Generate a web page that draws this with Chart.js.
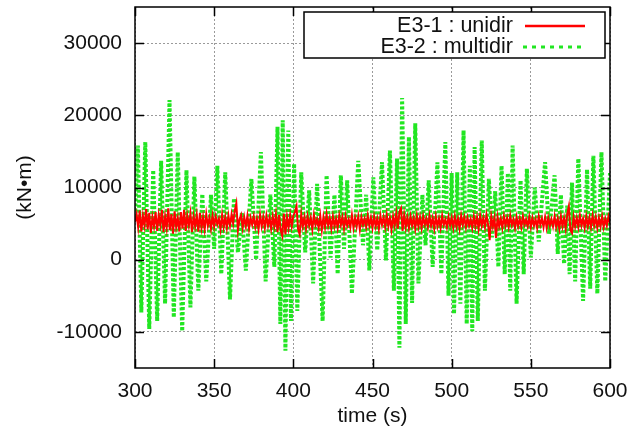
<!DOCTYPE html>
<html>
<head>
<meta charset="utf-8">
<script src="https://cdn.jsdelivr.net/npm/chart.js@4.4.1/dist/chart.umd.min.js"></script>
<style>
  html, body { margin: 0; padding: 0; background: #fff; }
  #wrap { width: 632px; height: 437px; position: relative; }
</style>
</head>
<body>
<div id="wrap"><canvas id="chart"></canvas></div>
<script>
/* ─── Data ─── */
const xTicks = [300, 350, 400, 450, 500, 550, 600];
const yTicks = [-10000, 0, 10000, 20000, 30000];

const seriesNames = ['E3-1 : unidir', 'E3-2 : multidir'];

// E3-1 (unidir), sampled every 1 s from 300 s
const redStart = 300;
const redStep  = 1;
const redValues = [
  5200, 6300, 4500, 6800, 3900, 6100, 4700, 7000, 4200, 6500,
  3700, 5900, 4600, 6600, 4000, 6200, 4800, 6900, 3800, 6000,
  4400, 7100, 4100, 6300, 3600, 6700, 4500, 5800, 3900, 6600,
  4300, 6900, 4000, 6100, 4700, 6400, 3800, 6000, 4600, 6200,
  3900, 6500, 4400, 5900, 4200, 6300, 4700, 5800, 4300, 6100,
  4600, 6000, 4900, 5700, 4200, 6200, 4500, 5900, 4400, 6100,
  4700, 6300, 5000, 6800, 7800, 4100, 5600, 6200, 4400, 5900,
  4600, 6100, 4300, 5800, 4800, 6000, 4500, 5700, 4200, 6200,
  4600, 5900, 4400, 6100, 4700, 5800, 4300, 6000, 4600, 6300,
  3800, 6200, 4100, 3300, 6400, 3500, 5900, 4400, 6200, 4600,
  6100, 6600, 7400, 4200, 3500, 6300, 4600, 5900, 4300, 6000,
  4700, 5800, 4200, 6200, 4800, 5600, 4400, 6100, 4100, 5900,
  4500, 6300, 4700, 5800, 4300, 6000, 4600, 5700, 4400, 6100,
  4800, 5900, 4300, 6000, 4700, 5600, 4500, 6200, 4400, 5800,
  4600, 6000, 4200, 5900, 4800, 5700, 4500, 6100, 4700, 5800,
  4400, 6000, 4600, 5700, 4300, 6100, 4800, 5900, 4500, 6200,
  4600, 5800, 4200, 6000, 4700, 6400, 4300, 6600, 7100, 4000,
  6200, 4500, 5900, 4400, 6000, 4700, 5800, 4300, 6100, 4600,
  5900, 4400, 6000, 4800, 5700, 4500, 6100, 4700, 5800, 4300,
  6000, 4600, 5700, 4400, 6100, 4800, 5600, 4500, 5900, 4700,
  5800, 4400, 6000, 4600, 5700, 4300, 6100, 4800, 5900, 4500,
  5800, 4700, 5600, 4400, 6000, 4600, 5900, 4300, 6100, 4700,
  5800, 4500, 6200, 4900, 2700, 6000, 4600, 5800, 3000, 5900,
  4600, 5700, 4400, 6000, 4700, 5800, 4500, 6100, 4800, 5600,
  4400, 5900, 4600, 5700, 4500, 6000, 4800, 5600, 4600, 5900,
  4500, 5800, 4700, 5600, 4400, 6000, 4800, 5700, 4500, 5900,
  4400, 5800, 4700, 5600, 4600, 6000, 4500, 5700, 4300, 6000,
  4600, 5800, 4300, 6300, 7400, 4100, 3700, 5900, 4600, 5800,
  4500, 6100, 4700, 5700, 4400, 6000, 4600, 5800, 4500, 6100,
  4700, 5900, 4400, 5800, 4600, 6000, 4500, 5700, 4700, 6000,
  5000,
];

// E3-2 (multidir): successive peaks and troughs
const greenTime = [
  300.0, 301.8, 304.0, 306.5, 309.0, 311.5, 314.0, 316.5, 319.0, 321.8,
  324.5, 327.0, 329.8, 332.5, 335.0, 337.5, 340.0, 342.5, 345.0, 348.0,
  350.0, 352.0, 354.5, 357.0, 360.0, 362.5, 365.0, 367.5, 370.0, 373.5,
  376.5, 379.5, 382.5, 385.5, 388.0, 390.0, 391.8, 393.3, 395.0, 396.8,
  398.5, 400.5, 402.5, 405.0, 407.5, 410.0, 412.5, 415.0, 418.5, 421.0,
  423.5, 426.0, 428.0, 430.0, 432.0, 434.0, 437.0, 441.0, 444.0, 446.0,
  448.0, 450.5, 453.0, 456.0, 458.5, 461.0, 463.5, 465.5, 467.0, 468.7,
  471.0, 473.0, 475.0, 477.0, 479.0, 481.5, 483.5, 485.5, 488.0, 491.0,
  493.5, 496.0, 498.0, 500.0, 501.5, 503.5, 505.5, 507.5, 509.5, 511.5,
  513.0, 514.5, 516.5, 519.0, 521.0, 523.5, 525.5, 527.5, 529.5, 531.5,
  533.5, 535.5, 537.0, 538.5, 541.0, 543.5, 545.5, 547.5, 550.0, 552.5,
  555.0, 559.0, 561.5, 565.0, 567.0, 569.0, 571.0, 573.0, 574.5, 576.0,
  578.0, 580.0, 583.0, 585.5, 587.5, 589.5, 592.0, 594.6, 597.0, 600.0,
];
const greenValues = [
   6000, 15800,  -7300, 16300,  -9600, 12400,  -8500, 13700,  -6100, 22100,
  -8000, 14900,  -9900, 12400,  -6600, 11500,  -4300,  9100,  -3000,  9000,
   1500, 13000,  -2000, 12100,  -5500,  8500,   1000,  6500,  -1500, 11200,
      0, 14900,  -3000,  9000,  -1000, 18400,  -8900, 19300, -12600, 17900,
  -8500, 13300,  -7100, 12100,   1000,  9600,  -3300, 10500,  -8500, 11700,
    300,  9000,  -2000, 11700,   1500, 11000,  -4700, 13700,   2000,  9000,
  -1500, 11400,   1300, 13500,   -100, 15100,  -4300, 14000, -12200, 22400,
  -8900, 17000,  -6000, 18900,  -3300,  9000,   2000, 11000,  -1000, 13500,
  -2000, 16300,  -5000, 12000,  -7500, 12100,  -6100, 17900,  -8900, 13000,
  -9900, 15600,  -8500, 16500,  -4300, 11200,   3100,  9500,  -1000, 13000,
  -2000, 12000,  -4300, 15800,  -6100, 11000,  -2000, 12600,    300, 10000,
   2500, 13500,   3600, 11700,    800,  9000,   -600,  7500,  -2000, 10700,
  -3000, 14000,  -5700, 12500,  -4000, 14400,  -4700, 14900,  -3000, 12000,
];

/* ─── Styles ─── */
const FONT      = "'Liberation Sans', Arial, Helvetica, sans-serif";
const TEXT_CLR  = '#111';
const RED       = '#ff0000';
const GREEN     = '#22e622';
const GREEN_DASH = [3, 2];

const redData   = redValues.map((v, i) => ({ x: redStart + i * redStep, y: v }));
const greenData = greenValues.map((v, i) => ({ x: greenTime[i], y: v }));

/* ─── Frame, mirrored inner ticks, legend box (gnuplot look) ─── */
const gnuplotFrame = {
  id: 'gnuplotFrame',
  afterDatasetsDraw(chart) {
    const { ctx, chartArea: a, scales } = chart;
    ctx.save();
    ctx.strokeStyle = '#000';
    ctx.lineWidth = 1.5;
    ctx.setLineDash([]);
    ctx.beginPath();
    yTicks.forEach(v => {
      const y = Math.round(scales.y.getPixelForValue(v)) + 0.5;
      ctx.moveTo(a.left, y);  ctx.lineTo(a.left + 9, y);
      ctx.moveTo(a.right, y); ctx.lineTo(a.right - 9, y);
    });
    xTicks.forEach(v => {
      const x = Math.round(scales.x.getPixelForValue(v)) + 0.5;
      ctx.moveTo(x, a.bottom); ctx.lineTo(x, a.bottom - 9);
      ctx.moveTo(x, a.top);    ctx.lineTo(x, a.top + 9);
    });
    ctx.stroke();
    ctx.strokeRect(a.left, a.top, a.right - a.left, a.bottom - a.top);

    // legend
    const bx = a.right - 306, by = a.top + 5, bw = 301, bh = 46;
    ctx.fillStyle = '#fff';
    ctx.fillRect(bx, by, bw, bh);
    ctx.strokeRect(bx, by, bw, bh);
    ctx.font = `21.5px ${FONT}`;
    ctx.fillStyle = TEXT_CLR;
    ctx.textAlign = 'right';
    ctx.textBaseline = 'middle';
    const rows = [by + 14, by + 35];
    ctx.fillText(seriesNames[0], bx + 209, rows[0]);
    ctx.fillText(seriesNames[1], bx + 209, rows[1]);
    ctx.lineWidth = 2.5;
    ctx.strokeStyle = RED;
    ctx.beginPath(); ctx.moveTo(bx + 221, rows[0]); ctx.lineTo(bx + 281, rows[0]); ctx.stroke();
    ctx.lineWidth = 3;
    ctx.strokeStyle = GREEN;
    ctx.setLineDash([4, 5]);
    ctx.beginPath(); ctx.moveTo(bx + 219, rows[1]); ctx.lineTo(bx + 281, rows[1]); ctx.stroke();
    ctx.restore();
  },
};

new Chart(document.getElementById('chart'), {
  type: 'line',
  data: {
    datasets: [
      {
        label: seriesNames[0],
        data: redData,
        borderColor: RED,
        borderWidth: 2,
        pointRadius: 0,
        tension: 0,
      },
      {
        label: seriesNames[1],
        data: greenData,
        borderColor: GREEN,
        borderWidth: 4,
        borderDash: GREEN_DASH,
        borderCapStyle: 'butt',
        pointRadius: 0,
        tension: 0,
      },
    ],
  },
  options: {
    responsive: true,
    maintainAspectRatio: false,
    animation: false,
    events: [],
    layout: { padding: { top: 7, right: 22, left: 0, bottom: 0 } },
    plugins: {
      legend: { display: false },
      tooltip: { enabled: false },
    },
    scales: {
      x: {
        type: 'linear',
        min: 300,
        max: 600,
        afterBuildTicks: axis => { axis.ticks = xTicks.map(v => ({ value: v })); },
        afterFit: scale => {
          scale.height = 69;
          scale.paddingLeft = 0;
          scale.paddingRight = 0;
        },
        grid: { color: '#9a9a9a', lineWidth: 1, drawTicks: false },
        border: { display: false, dash: [2, 2] },
        ticks: {
          color: TEXT_CLR,
          padding: 11,
          maxRotation: 0,
          font: { family: FONT, size: 21 },
          callback: v => String(v),
        },
        title: {
          display: true,
          text: 'time (s)',
          color: TEXT_CLR,
          font: { family: FONT, size: 21 },
          padding: { top: 0, bottom: 8 },
        },
      },
      y: {
        min: -15000,
        max: 35000,
        afterBuildTicks: axis => { axis.ticks = yTicks.map(v => ({ value: v })); },
        afterFit: scale => {
          scale.width = 135;
          scale.paddingTop = 0;
          scale.paddingBottom = 0;
        },
        grid: { color: '#9a9a9a', lineWidth: 1, drawTicks: false },
        border: { display: false, dash: [2, 2] },
        ticks: {
          color: TEXT_CLR,
          padding: 13,
          font: { family: FONT, size: 21 },
          callback: v => String(v),
        },
        title: {
          display: true,
          text: '(kN•m)',
          color: TEXT_CLR,
          font: { family: FONT, size: 21 },
          padding: { top: 13, bottom: 0 },
        },
      },
    },
  },
  plugins: [gnuplotFrame],
});
</script>
</body>
</html>
